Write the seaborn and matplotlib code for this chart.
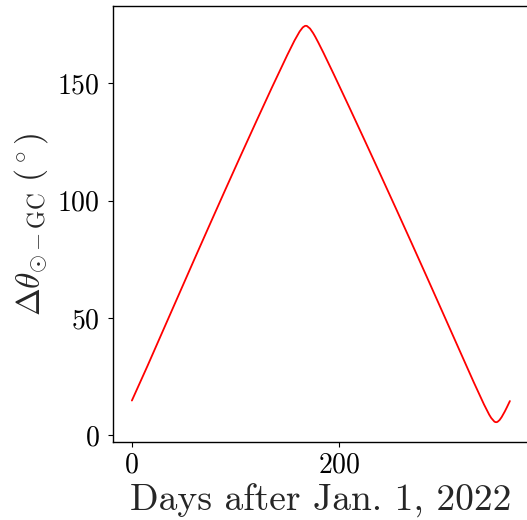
import numpy as np
import pandas as pd
import matplotlib
matplotlib.use('Agg')
import matplotlib.pyplot as plt
import seaborn as sns

# Angular distance Sun - Galactic Centre
days = [0, 15, 30, 45, 60, 75, 90, 105, 120, 135, 150, 157, 162, 165, 167,
        168, 169, 172, 175, 177, 180, 185, 195, 210, 225, 240, 255, 270, 285,
        300, 315, 330, 340, 345, 347, 350, 351, 352, 353, 355, 357, 360, 362, 365]
sep_deg = [14.83, 29.51, 44.57, 59.62, 74.66, 89.57, 104.39, 119.06, 133.57,
           147.92, 161.90, 168.10, 171.98, 173.70, 174.31, 174.39, 174.32,
           173.22, 171.29, 169.77, 167.27, 162.88, 153.70, 139.64, 125.40,
           111.04, 96.57, 81.97, 67.26, 52.44, 37.57, 22.72, 13.17, 8.84, 7.40,
           5.88, 5.66, 5.62, 5.75, 6.52, 7.76, 10.11, 11.86, 14.62]

df = pd.DataFrame({'day': days, 'sep': sep_deg})

sns.set_style('ticks')
plt.rcParams['font.family'] = 'serif'
plt.rcParams['font.serif'] = ['cmr10']
plt.rcParams['mathtext.fontset'] = 'cm'
plt.rcParams['axes.formatter.use_mathtext'] = True

fig = plt.figure(figsize=(5.27, 5.20), dpi=100)
ax = fig.add_axes([0.2144, 0.15, 0.789, 0.8385])
sns.lineplot(data=df, x='day', y='sep', color='red', linewidth=1.3, ax=ax)

ax.set_xticks([0, 200])
ax.set_yticks([0, 50, 100, 150])
ax.tick_params(labelsize=20, colors='black')
ax.tick_params(axis='y', pad=6)
for s in ax.spines.values():
    s.set_color('black')
    s.set_linewidth(1.0)
ax.set_xlabel('Days after Jan. 1, 2022', fontsize=27, labelpad=4)
ax.set_ylabel(r'$\Delta\theta_{\odot-\mathrm{GC}}\ (^\circ)$', fontsize=24, labelpad=5)

fig.savefig('out.png', dpi=100)
